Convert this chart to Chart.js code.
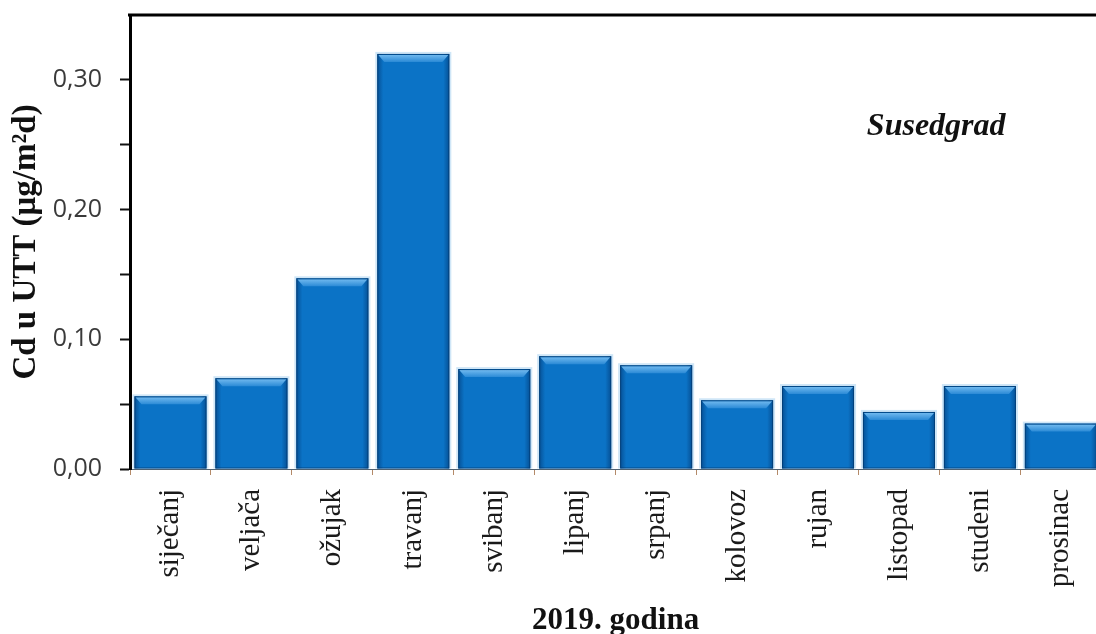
<!DOCTYPE html>
<html>
<head>
<meta charset="utf-8">
<script src="https://cdn.jsdelivr.net/npm/chart.js@4.4.1/dist/chart.umd.min.js"></script>
<style>
  html, body { margin: 0; padding: 0; background: #ffffff; overflow: hidden; }
  #wrap { width: 1110px; height: 634px; }
</style>
</head>
<body>
<div id="wrap"><canvas id="c" width="1110" height="634"></canvas></div>
<script>
// Monthly cadmium deposition, station Susedgrad, 2019
const months = ['siječanj', 'veljača', 'ožujak', 'travanj', 'svibanj', 'lipanj',
                'srpanj', 'kolovoz', 'rujan', 'listopad', 'studeni', 'prosinac'];
const cdValues = [0.056, 0.070, 0.147, 0.320, 0.077, 0.087,
                  0.080, 0.053, 0.064, 0.044, 0.064, 0.035];
const yAxisTitle = 'Cd u UTT (μg/m²d)';
const xAxisTitle = '2019. godina';
const stationName = 'Susedgrad';

// Soft halo behind each bar
const barHalo = {
  id: 'barHalo',
  beforeDatasetsDraw(chart) {
    const ctx = chart.ctx;
    const meta = chart.getDatasetMeta(0);
    ctx.save();
    meta.data.forEach(bar => {
      const l = bar.x - bar.width / 2, r = bar.x + bar.width / 2;
      ctx.fillStyle = 'rgba(160,205,240,0.5)';
      ctx.fillRect(l - 2, bar.y - 2, r - l + 4, bar.base - bar.y + 2);
    });
    ctx.restore();
  }
};

// Bevelled look: dark side edges, light top facet, thin outline
const barBevel = {
  id: 'barBevel',
  afterDatasetsDraw(chart) {
    const ctx = chart.ctx;
    const meta = chart.getDatasetMeta(0);
    ctx.save();
    meta.data.forEach(bar => {
      const l = bar.x - bar.width / 2, r = bar.x + bar.width / 2;
      const t = bar.y, b = bar.base;
      let g = ctx.createLinearGradient(l, 0, l + 6, 0);
      g.addColorStop(0, 'rgba(0,45,100,0.5)');
      g.addColorStop(1, 'rgba(0,45,100,0)');
      ctx.fillStyle = g;
      ctx.fillRect(l, t, 6, b - t);
      g = ctx.createLinearGradient(r - 6, 0, r, 0);
      g.addColorStop(0, 'rgba(0,45,100,0)');
      g.addColorStop(1, 'rgba(0,45,100,0.5)');
      ctx.fillStyle = g;
      ctx.fillRect(r - 6, t, 6, b - t);
      // top facet
      g = ctx.createLinearGradient(0, t, 0, t + 8);
      g.addColorStop(0, '#79bff2');
      g.addColorStop(1, '#2b8ad6');
      ctx.fillStyle = g;
      ctx.beginPath();
      ctx.moveTo(l + 1, t + 1);
      ctx.lineTo(r - 1, t + 1);
      ctx.lineTo(r - 7, t + 8);
      ctx.lineTo(l + 7, t + 8);
      ctx.closePath();
      ctx.fill();
      ctx.strokeStyle = 'rgba(0,55,110,0.7)';
      ctx.lineWidth = 1;
      ctx.strokeRect(l + 0.5, t + 0.5, r - l - 1, b - t - 1);
    });
    ctx.restore();
  }
};

// Top frame line and station label
const frameAndLabel = {
  id: 'frameAndLabel',
  afterDraw(chart) {
    const ctx = chart.ctx;
    const a = chart.chartArea;
    ctx.save();
    ctx.strokeStyle = '#000000';
    ctx.lineWidth = 3;
    ctx.beginPath();
    ctx.moveTo(a.left - 2, a.top);
    ctx.lineTo(chart.width, a.top);
    ctx.stroke();
    ctx.fillStyle = '#111111';
    ctx.font = 'italic bold 32px "Liberation Serif", "Times New Roman", serif';
    ctx.textAlign = 'center';
    ctx.textBaseline = 'alphabetic';
    ctx.fillText(stationName, a.left + 0.83 * (a.right - a.left), a.top + 120);
    ctx.restore();
  }
};

new Chart(document.getElementById('c'), {
  type: 'bar',
  data: {
    labels: months,
    datasets: [{
      data: cdValues,
      backgroundColor: '#0b73c6',
      borderWidth: 0,
      barPercentage: 0.89,
      categoryPercentage: 1.0
    }]
  },
  options: {
    responsive: false,
    devicePixelRatio: 1,
    animation: false,
    layout: { padding: { top: 0, right: 8, left: 0, bottom: 0 } },
    plugins: {
      legend: { display: false },
      tooltip: { enabled: false }
    },
    scales: {
      x: {
        grid: {
          drawOnChartArea: false,
          offset: true,
          tickLength: 6,
          tickColor: '#b48a68',
          tickWidth: 1
        },
        border: { color: '#4f6272', width: 1 },
        ticks: {
          maxRotation: 90,
          minRotation: 90,
          autoSkip: false,
          padding: 14,
          color: '#1a1a1a',
          font: { family: '"Liberation Serif", "Times New Roman", serif', size: 29 }
        },
        title: {
          display: true,
          text: xAxisTitle,
          color: '#111111',
          padding: { top: 0, bottom: -2 },
          font: { family: '"Liberation Serif", "Times New Roman", serif', size: 31, weight: 'bold', lineHeight: 1 }
        },
        afterFit(scale) { scale.height = 165; }
      },
      y: {
        min: 0,
        max: 0.35,
        grid: {
          drawOnChartArea: false,
          tickLength: 10,
          tickWidth: 2,
          tickColor: ctx => (ctx.tick && ctx.tick.value > 0.34) ? 'rgba(0,0,0,0)' : '#111111'
        },
        border: { color: '#000000', width: 3 },
        ticks: {
          stepSize: 0.05,
          padding: 18,
          color: '#3a3a3a',
          font: { family: '"Open Sans", "Liberation Sans", sans-serif', size: 25, lineHeight: 1.2 },
          callback(v) {
            const h = Math.round(v * 100);
            if (h % 10 !== 0) return '';
            return (h / 100).toFixed(2).replace('.', ',');
          }
        },
        title: {
          display: true,
          text: yAxisTitle,
          color: '#111111',
          padding: { top: 10, bottom: 0 },
          font: { family: '"Liberation Serif", "Times New Roman", serif', size: 33, weight: 'bold', lineHeight: 1 }
        },
        afterFit(scale) {
          scale.width = 130;
          scale.paddingTop = 15;
        }
      }
    }
  },
  plugins: [barHalo, barBevel, frameAndLabel]
});
</script>
</body>
</html>
